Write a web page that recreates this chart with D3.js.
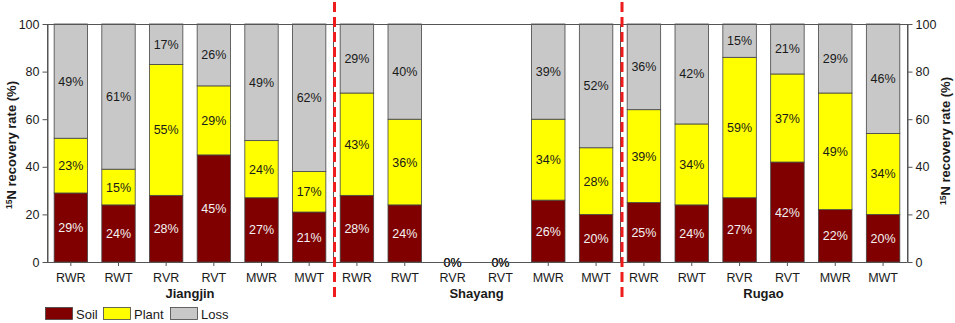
<!DOCTYPE html>
<html><head><meta charset="utf-8">
<script src="https://cdn.jsdelivr.net/npm/d3@7/dist/d3.min.js"></script>
<style>
body{margin:0;background:#fff;}
svg text{font-family:"Liberation Sans",Arial,sans-serif;}
</style></head>
<body><svg id="c" width="955" height="323"></svg>
<script>
const sites = ["Jiangjin","Shayang","Rugao"];
const treatments = ["RWR","RWT","RVR","RVT","MWR","MWT"];
const seriesNames = ["Soil","Plant","Loss"];
const soil = [
  [29,24,28,45,27,21],
  [28,24,0,0,26,20],
  [25,24,27,42,22,20]
];
const plant = [
  [23,15,55,29,24,17],
  [43,36,0,0,34,28],
  [39,34,59,37,49,34]
];
const loss = [
  [49,61,17,26,49,62],
  [29,40,0,0,39,52],
  [36,42,15,21,29,46]
];
const yTicks = [0,20,40,60,80,100];
const colors = ["#800000","#ffff00","#c8c8c8"];
const labelColors = ["#f2f2f2","#1a1a1a","#1a1a1a"];

const svg = d3.select("#c");
const plotTop = 24, plotBottom = 262;
const panelEdges = [47,333,620,907];
const y = d3.scaleLinear().domain([0,100]).range([plotBottom, plotTop]);
const axisColor = "#555";

sites.forEach((site, si) => {
  const x = d3.scaleBand().domain(treatments)
    .range([panelEdges[si], panelEdges[si+1]]).paddingInner(0.3).paddingOuter(0.15);
  const rows = treatments.map((t,i)=>({t, Soil:soil[si][i], Plant:plant[si][i], Loss:loss[si][i]}));
  const stacked = d3.stack().keys(seriesNames)(rows);
  const g = svg.append("g");
  const last = stacked.length - 1;
  // Loss (top layer) is the remainder up to 100 %
  const segs = stacked.map((layer, li) => layer.map(d => {
    const v = d.data[seriesNames[li]];
    let y0 = Math.min(100, d[0]), y1 = Math.min(100, d[1]);
    if (li === last && v > 0) y1 = 100;
    return {y0, y1, v};
  }));
  segs.forEach((layer, li) => {
    layer.forEach((s, i) => {
      if (s.y1 > s.y0) {
        g.append("rect")
          .attr("x", x(treatments[i]))
          .attr("width", x.bandwidth())
          .attr("y", y(s.y1))
          .attr("height", y(s.y0) - y(s.y1))
          .attr("fill", colors[li])
          .attr("stroke", "#444")
          .attr("stroke-width", 0.8);
      }
    });
  });
  segs.forEach((layer, li) => {
    layer.forEach((s, i) => {
      g.append("text")
        .attr("x", x(treatments[i]) + x.bandwidth()/2)
        .attr("y", (y(s.y0)+y(s.y1))/2)
        .attr("dy","0.36em")
        .attr("text-anchor","middle")
        .attr("font-size","12.5px")
        .attr("fill", labelColors[li])
        .text(s.v + "%");
    });
  });
  const xa = d3.axisBottom(x).tickSize(4).tickSizeOuter(0).tickPadding(3);
  const ax = svg.append("g").attr("transform",`translate(0,${plotBottom})`).call(xa);
  ax.select(".domain").remove();
  ax.selectAll(".tick line").attr("stroke", axisColor);
  ax.selectAll(".tick text").attr("font-size","12.5px").attr("fill","#1a1a1a")
    .attr("font-family","Liberation Sans, Arial, sans-serif").attr("dy","1.0em");
  svg.append("text")
    .attr("x", (panelEdges[si]+panelEdges[si+1])/2)
    .attr("y", 298)
    .attr("text-anchor","middle")
    .attr("font-size","13px").attr("font-weight","bold").attr("fill","#1a1a1a")
    .text(site);
});

const fr = svg.append("g").attr("stroke", axisColor).attr("stroke-width",1).attr("fill","none");
fr.append("line").attr("x1",panelEdges[0]).attr("x2",panelEdges[3]).attr("y1",plotTop+0.5).attr("y2",plotTop+0.5);
fr.append("line").attr("x1",panelEdges[0]).attr("x2",panelEdges[3]).attr("y1",plotBottom+0.5).attr("y2",plotBottom+0.5);
panelEdges.forEach(px => fr.append("line").attr("x1",px+0.5).attr("x2",px+0.5).attr("y1",plotTop).attr("y2",plotBottom+0.5));

const ly = svg.append("g").attr("transform",`translate(${panelEdges[0]+0.5},0)`)
  .call(d3.axisLeft(y).tickValues(yTicks).tickSize(5).tickSizeOuter(0).tickPadding(3));
const ry = svg.append("g").attr("transform",`translate(${panelEdges[3]+0.5},0)`)
  .call(d3.axisRight(y).tickValues(yTicks).tickSize(5).tickSizeOuter(0).tickPadding(3));
[ly,ry].forEach(a=>{
  a.select(".domain").attr("stroke",axisColor);
  a.selectAll(".tick line").attr("stroke",axisColor);
  a.selectAll(".tick text").attr("font-size","12.5px").attr("fill","#1a1a1a")
    .attr("font-family","Liberation Sans, Arial, sans-serif");
});

function yTitle(cx, cy){
  const t = svg.append("text")
    .attr("transform",`translate(${cx},${cy}) rotate(-90)`)
    .attr("text-anchor","middle")
    .attr("font-size","13px").attr("font-weight","bold").attr("fill","#1a1a1a");
  t.append("tspan").attr("font-size","8.5px").attr("dy","-4").text("15");
  t.append("tspan").attr("dy","4").text("N recovery rate (%)");
}
yTitle(16, 145);
yTitle(950, 141);

[334.5, 622].forEach(px=>{
  svg.append("line").attr("x1",px).attr("x2",px).attr("y1",2).attr("y2",302)
    .attr("stroke","#ee1c1c").attr("stroke-width",3).attr("stroke-dasharray","10,5");
});

const legX = [45,103,170];
seriesNames.forEach((n,i)=>{
  svg.append("rect").attr("x",legX[i]+0.5).attr("y",307.5).attr("width",27).attr("height",12)
    .attr("fill",colors[i]).attr("stroke","#444").attr("stroke-width",0.8);
  svg.append("text").attr("x",legX[i]+31).attr("y",318.5).attr("font-size","13px").attr("fill","#1a1a1a").text(n);
});
</script>
</body></html>
